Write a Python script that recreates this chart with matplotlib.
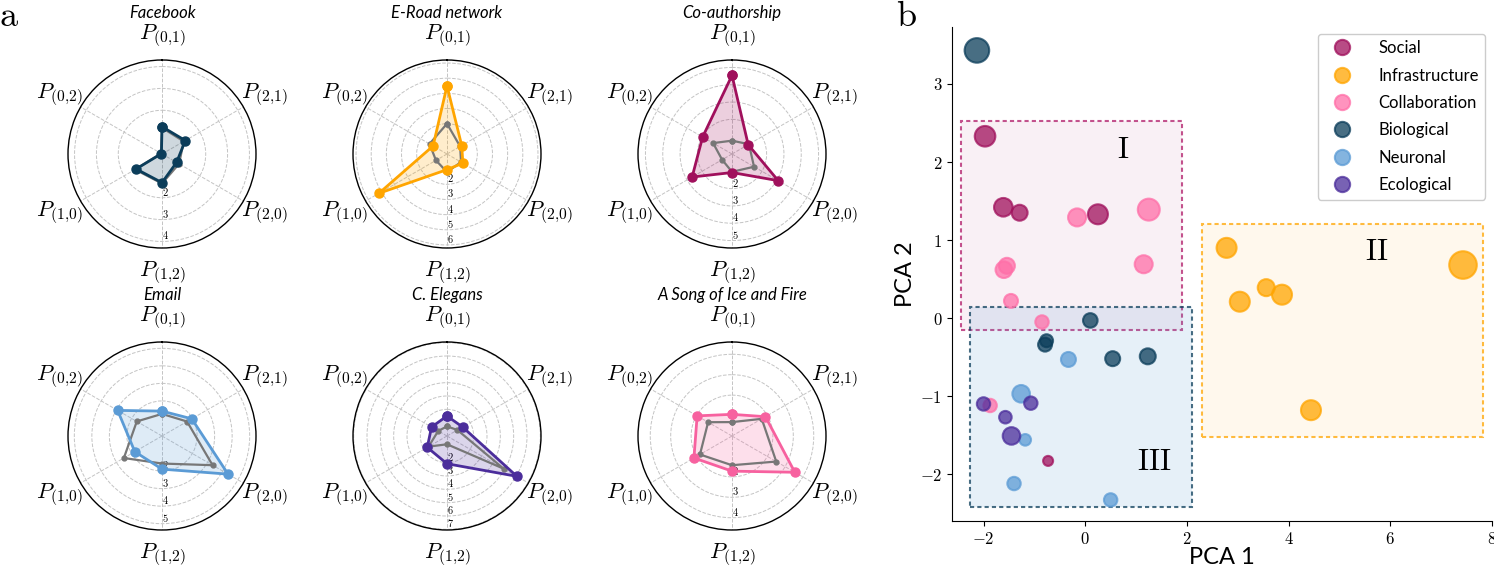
import numpy as np
import matplotlib
matplotlib.use('Agg')
from matplotlib import pyplot as plt
from matplotlib.patches import Rectangle
from matplotlib.lines import Line2D
from matplotlib.colors import to_rgba

plt.rcParams['font.family'] = ['Lato', 'DejaVu Sans']
plt.rcParams['mathtext.fontset'] = 'cm'

# ---------- a: radar charts ----------
# axes order, clockwise from top
motif_labels = [r'$P_{(0{,}1)}$', r'$P_{(2{,}1)}$', r'$P_{(2{,}0)}$',
                r'$P_{(1{,}2)}$', r'$P_{(1{,}0)}$', r'$P_{(0{,}2)}$']

net_names = ['Facebook', 'E-Road network', 'Co-authorship',
             'Email', 'C. Elegans', 'A Song of Ice and Fire']
net_colors = ['#0b3d5a', '#ffa500', '#a0105c', '#5b9bd5', '#4b2d9b', '#f7619f']

facebook_net = [1.25, 1.23, 0.77, 1.31, 1.37, 0.03]
facebook_null = [1.20, 1.15, 0.90, 1.35, 1.42, 0.05]
eroad_net = [4.49, 1.12, 1.21, 1.03, 5.19, 1.06]
eroad_null = [2.00, 1.00, 1.07, 1.19, 0.84, 1.33]
coauthor_net = [4.54, 1.08, 3.08, 1.07, 2.66, 1.96]
coauthor_null = [0.77, 1.13, 1.47, 1.03, 0.66, 1.26]
email_net = [1.42, 1.96, 4.35, 1.89, 1.79, 2.92]
email_null = [1.26, 1.65, 3.33, 1.57, 2.51, 1.66]
elegans_net = [1.50, 1.35, 6.05, 2.08, 1.71, 1.34]
elegans_null = [0.72, 0.90, 4.90, 0.62, 1.60, 0.76]
song_net = [1.06, 1.89, 3.55, 1.72, 2.15, 1.97]
song_null = [0.68, 1.68, 2.50, 1.43, 1.81, 1.35]

net_values = [facebook_net, eroad_net, coauthor_net, email_net, elegans_net, song_net]
null_values = [facebook_null, eroad_null, coauthor_null, email_null, elegans_null, song_null]
r_max = [4.3, 6.2, 5.43, 5.36, 7.05, 4.6]

# ---------- b: PCA scatter ----------
categories = ['Social', 'Infrastructure', 'Collaboration', 'Biological', 'Neuronal', 'Ecological']
cat_colors = ['#a0105c', '#ffa500', '#ff6fa8', '#0b3d5a', '#5b9bd5', '#4b2d9b']

social_x = [-1.97, -1.61, -1.29, 0.25, -0.73]
social_y = [2.33, 1.42, 1.35, 1.33, -1.83]
social_s = [220, 180, 132, 207, 52]
infra_x = [2.78, 3.04, 3.56, 3.87, 4.44, 7.43]
infra_y = [0.90, 0.21, 0.39, 0.30, -1.18, 0.68]
infra_s = [207, 207, 150, 207, 207, 394]
collab_x = [-0.16, 1.25, -1.54, -1.60, 1.15, -1.46, -0.85, -1.87]
collab_y = [1.29, 1.39, 0.67, 0.62, 0.69, 0.22, -0.05, -1.12]
collab_s = [168, 250, 132, 143, 168, 101, 93, 93]
bio_x = [-2.13, 0.10, -0.76, -0.79, 0.54, 1.23]
bio_y = [3.43, -0.03, -0.29, -0.34, -0.52, -0.49]
bio_s = [313, 110, 87, 101, 116, 132]
neuro_x = [-0.33, -1.26, -1.18, -1.40, 0.50]
neuro_y = [-0.53, -0.97, -1.56, -2.12, -2.33]
neuro_s = [116, 160, 70, 93, 93]
eco_x = [-2.00, -1.07, -1.57, -1.45]
eco_y = [-1.10, -1.09, -1.27, -1.51]
eco_s = [93, 93, 82, 160]

pca_x = [social_x, infra_x, collab_x, bio_x, neuro_x, eco_x]
pca_y = [social_y, infra_y, collab_y, bio_y, neuro_y, eco_y]
pca_s = [social_s, infra_s, collab_s, bio_s, neuro_s, eco_s]

# cluster boxes: x0, y0, x1, y1
region_names = ['I', 'II', 'III']
region_bounds = [(-2.45, -0.15, 1.90, 2.52), (2.29, -1.52, 7.83, 1.20), (-2.27, -2.42, 2.10, 0.145)]
region_label_xy = [(0.74, 2.17), (5.74, 0.86), (1.36, -1.83)]
region_edge = ['#b01a68', '#ffa500', '#0b3d5a']
region_face = ['#a0105c', '#ffa500', '#5b9bd5']
region_face_alpha = [0.06, 0.07, 0.15]

pca_xticks = [-2, 0, 2, 4, 6, 8]
pca_yticks = [-2, -1, 0, 1, 2, 3]

W, H = 1494, 565
fig = plt.figure(figsize=(W / 100, H / 100), dpi=100)

# radar layout (pixel centres)
R = 94
centres = [(162, 154), (447, 154), (732, 154), (162, 436), (447, 436), (732, 436)]
theta = np.linspace(0, 2 * np.pi, 6, endpoint=False)
th = np.append(theta, theta[0])

for i in range(6):
    cx, cy = centres[i]
    ax = fig.add_axes([(cx - R) / W, (H - cy - R) / H, 2 * R / W, 2 * R / H], projection='polar')
    ax.set_theta_offset(np.pi / 2)
    ax.set_theta_direction(-1)
    c = net_colors[i]
    v = np.append(net_values[i], net_values[i][0])
    g = np.append(null_values[i], null_values[i][0])
    ax.fill(th, v, color=c, alpha=0.2, lw=0, zorder=2)
    ax.plot(th, g, color='#777777', lw=1.6, marker='o', ms=3.5, zorder=3)
    ax.plot(th, v, color=c, lw=2, marker='o', ms=6.5, zorder=4)
    ax.set_ylim(0, r_max[i])
    ticks = list(range(2, int(r_max[i]) + 1))
    ax.set_yticks(ticks)
    ax.set_yticklabels(['$%d$' % t for t in ticks], fontsize=7.5)
    ax.set_rlabel_position(180)
    ax.set_xticks(theta)
    ax.set_xticklabels(motif_labels, fontsize=16)
    ax.tick_params(axis='x', pad=7)
    ax.grid(color='#c4c4c4', ls='--', lw=0.7)
    ax.spines['polar'].set_linewidth(1.0)
    ax.text(0.5, 1.25, net_names[i], transform=ax.transAxes, ha='center', va='center',
            style='italic', fontsize=12)

# scatter panel
ax = fig.add_axes([952 / W, 1 - 521 / H, (1492 - 952) / W, (521 - 27) / H])
for k in range(3):
    x0, y0, x1, y1 = region_bounds[k]
    ax.add_patch(Rectangle((x0, y0), x1 - x0, y1 - y0,
                           facecolor=to_rgba(region_face[k], region_face_alpha[k]),
                           edgecolor=to_rgba(region_edge[k], 0.75),
                           ls=(0, (2, 1.5)), lw=1.5, zorder=1))
    ax.text(region_label_xy[k][0], region_label_xy[k][1], r'$\mathrm{%s}$' % region_names[k],
            fontsize=22, ha='center', va='center', zorder=5)

for k in range(6):
    ax.scatter(pca_x[k], pca_y[k], s=pca_s[k], color=cat_colors[k], alpha=0.75,
               edgecolors=cat_colors[k], linewidths=1.5, zorder=3)

handles = [Line2D([], [], ls='', marker='o', ms=11, color=cat_colors[k], alpha=0.75,
                  mec=cat_colors[k], mew=1.5) for k in range(6)]
ax.legend(handles, categories, loc='upper right', fontsize=12, handletextpad=1.2,
          labelspacing=0.68, borderaxespad=0.4, framealpha=1, edgecolor='#cccccc')

ax.set_xlim(-2.62, 8.0)
ax.set_ylim(-2.6, 3.73)
ax.set_xticks(pca_xticks)
ax.set_xticklabels(['$%d$' % t for t in pca_xticks], fontsize=12)
ax.set_yticks(pca_yticks)
ax.set_yticklabels(['$%d$' % t for t in pca_yticks], fontsize=12)
ax.spines['top'].set_visible(False)
ax.spines['right'].set_visible(False)
ax.set_xlabel('PCA 1', fontsize=17, labelpad=0)
ax.set_ylabel('PCA 2', fontsize=17, labelpad=3)

fig.text(9 / W, 1 - 15 / H, r'$\mathrm{a}$', fontsize=26, ha='center', va='center')
fig.text(906 / W, 1 - 15 / H, r'$\mathrm{b}$', fontsize=26, ha='center', va='center')

fig.savefig('out.png', dpi=100)
